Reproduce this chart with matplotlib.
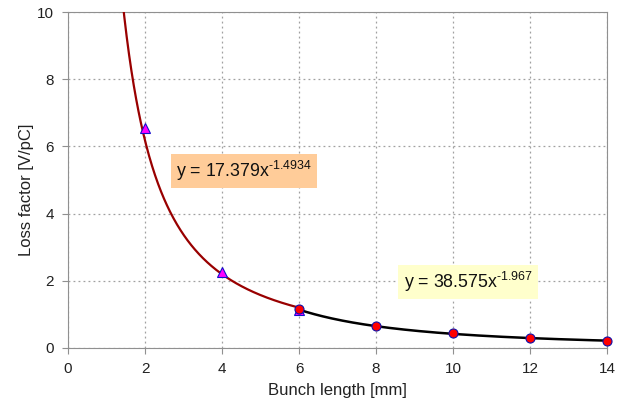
import numpy as np
import matplotlib
matplotlib.use("Agg")
import matplotlib.pyplot as plt

plt.rcParams['font.family'] = ['Liberation Sans', 'DejaVu Sans']
plt.rcParams['mathtext.fontset'] = 'custom'
plt.rcParams['mathtext.rm'] = 'Liberation Sans'
plt.rcParams['mathtext.default'] = 'regular'

# measured points
tri_x = [2, 4, 6]
tri_y = [6.55, 2.26, 1.12]
circ_x = [6, 8, 10, 12, 14]
circ_y = [1.15, 0.65, 0.44, 0.29, 0.21]

# power-law trendlines (coefficients from the chart labels)
fit1_a, fit1_b = 17.379, -1.4934
fit2_a, fit2_b = 38.575, -1.967
fit1_label = r"y = 17.379x$^{\text{-}1.4934}$"
fit2_label = r"y = 38.575x$^{\text{-}1.967}$"

x_ticks = [0, 2, 4, 6, 8, 10, 12, 14]
y_ticks = [0, 2, 4, 6, 8, 10]

fig = plt.figure(figsize=(6.24, 4.04), dpi=100)
ax = fig.add_axes([0.109, 0.139, 0.864, 0.831])

x1 = np.linspace(1.4, 6, 300)
ax.plot(x1, fit1_a * x1 ** fit1_b, color='#990000', lw=1.6, zorder=3)
x2 = np.linspace(6, 14, 300)
ax.plot(x2, fit2_a * x2 ** fit2_b, color='black', lw=1.8, zorder=3)

ax.plot(tri_x, tri_y, ls='none', marker='^', ms=6.5, mfc='#FF00FF',
        mec='#1010CC', mew=0.8, zorder=4)
ax.plot(circ_x, circ_y, ls='none', marker='o', ms=6.5, mfc='#FF0000',
        mec='#1010AA', mew=0.8, zorder=5, clip_on=False)

ax.set_xlim(0, 14)
ax.set_ylim(0, 10)
ax.set_xticks(x_ticks)
ax.set_yticks(y_ticks)
ax.grid(True, color='#A0A0A0', linestyle=(0, (1.5, 2.5)), lw=0.9)
for s in ax.spines.values():
    s.set_color('#909090')
ax.tick_params(direction='out', length=4, color='#909090', labelsize=11,
               labelcolor='#222222', pad=6)
ax.set_xlabel("Bunch length [mm]", fontsize=12, color='#222222', labelpad=5)
ax.set_ylabel("Loss factor [V/pC]", fontsize=12, color='#222222')
ax.yaxis.set_label_coords(-0.064, 0.47)

ax.text(2.8, 5.27, fit1_label, fontsize=12.8, va='center', ha='left',
        color='#111111', zorder=6,
        bbox=dict(boxstyle='square,pad=0.3', fc='#FFCC99', ec='none'))
ax.text(8.72, 1.96, fit2_label, fontsize=12.8, va='center', ha='left',
        color='#111111', zorder=6,
        bbox=dict(boxstyle='square,pad=0.3', fc='#FFFFCC', ec='none'))

fig.savefig("out.png", dpi=100)
